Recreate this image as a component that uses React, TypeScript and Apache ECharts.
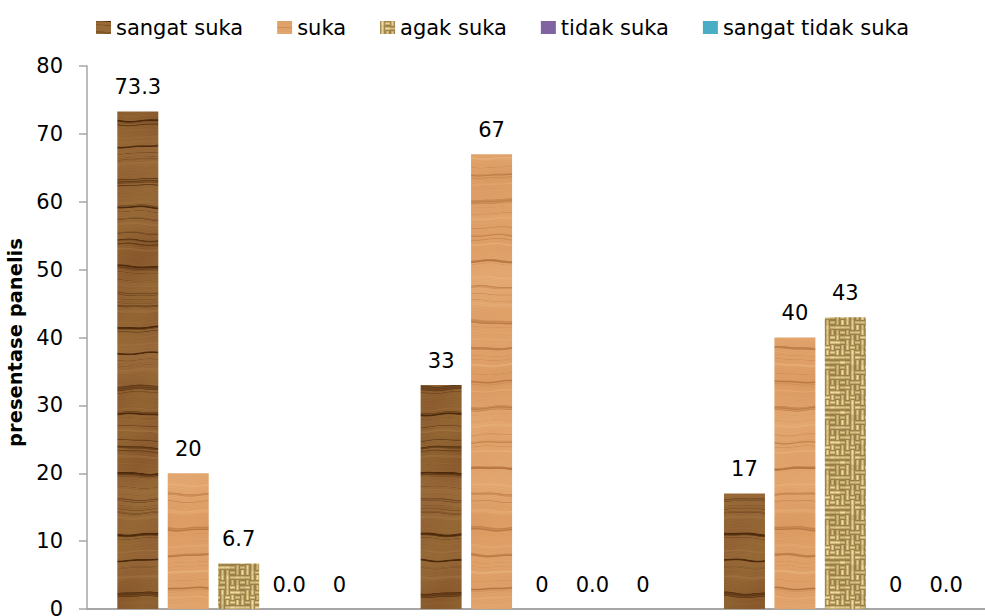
import React, { useEffect, useRef } from 'react';
import * as echarts from 'echarts';

// Categories along the x axis (their labels sit below the visible area)
const categories = ['Sampel A', 'Sampel B', 'Sampel C'];

// Legend / series names
const seriesNames = ['sangat suka', 'suka', 'agak suka', 'tidak suka', 'sangat tidak suka'];

// Percentage of panelists per category
const sangatSuka = [73.3, 33, 17];
const suka = [20, 67, 40];
const agakSuka = [6.7, 0, 43];
const tidakSuka = [0, 0, 0];
const sangatTidakSuka = [0, 0, 0];

// Decimal places used by each bar's value label
const sangatSukaDecimals = [1, 0, 0];
const sukaDecimals = [0, 0, 0];
const agakSukaDecimals = [1, 0, 0];
const tidakSukaDecimals = [1, 1, 0];
const sangatTidakSukaDecimals = [0, 0, 1];

// Value axis ticks
const yMin = 0;
const yMax = 80;
const yInterval = 10;

type RGB = [number, number, number];

const mix = (a: RGB, b: RGB, t: number): RGB => [
  a[0] + (b[0] - a[0]) * t,
  a[1] + (b[1] - a[1]) * t,
  a[2] + (b[2] - a[2]) * t,
];

// Streaky horizontal wood-grain texture
function woodTexture(
  base: RGB,
  dark: RGB,
  light: RGB,
  warm: RGB,
  phase: number,
  contrast: number
) {
  const w = 64;
  const h = 620;
  const c = document.createElement('canvas');
  c.width = w;
  c.height = h;
  const ctx = c.getContext('2d')!;
  const img = ctx.createImageData(w, h);
  const k = (Math.PI * 2) / w;
  for (let y = 0; y < h; y++) {
    for (let x = 0; x < w; x++) {
      const yy =
        y +
        0.9 * Math.sin(x * k + y * 0.031 + phase) +
        0.4 * Math.sin(x * k * 2 + y * 0.077 + phase * 2.3);
      const g =
        0.34 * Math.sin(0.213 * yy + phase) +
        0.26 * Math.sin(0.517 * yy + 2.1 * phase) +
        0.2 * Math.sin(0.941 * yy + 3.7 * phase) +
        0.12 * Math.sin(1.73 * yy + 1.3 * phase) +
        0.08 * Math.sin(3.1 * yy + 0.4 * phase);
      const tone =
        0.5 + 0.3 * Math.sin(0.037 * yy + phase * 1.7) + 0.2 * Math.sin(0.091 * yy + phase * 0.6);
      const warmth = 0.5 + 0.5 * Math.sin(0.061 * yy + x * k + phase * 0.9);
      const fine = 0.06 * Math.sin(x * k * 4 + y * 2.3 + phase);
      let col = mix(base, light, Math.max(0, Math.min(1, tone * 0.45 + fine)));
      col = mix(col, warm, warmth * 0.35);
      if (g > 0.3) col = mix(col, dark, Math.min(1, ((g - 0.3) / 0.4) * contrast));
      else if (g < -0.35) col = mix(col, light, Math.min(1, (-g - 0.35) / 0.5) * 0.5);
      const i = (y * w + x) * 4;
      img.data[i] = col[0];
      img.data[i + 1] = col[1];
      img.data[i + 2] = col[2];
      img.data[i + 3] = 255;
    }
  }
  ctx.putImageData(img, 0, 0);
  return c;
}

// Woven burlap texture
function burlapTexture() {
  const w = 50;
  const h = 50;
  const cell = 5;
  const c = document.createElement('canvas');
  c.width = w;
  c.height = h;
  const ctx = c.getContext('2d')!;
  const img = ctx.createImageData(w, h);
  const lightC: RGB = [246, 230, 172];
  const midC: RGB = [212, 186, 122];
  const darkC: RGB = [124, 98, 46];
  const cellHash = (cx: number, cy: number) => {
    const v = Math.sin(cx * 12.9898 + cy * 78.233) * 43758.5453;
    return v - Math.floor(v);
  };
  for (let y = 0; y < h; y++) {
    for (let x = 0; x < w; x++) {
      const cx = Math.floor(x / cell);
      const cy = Math.floor(y / cell);
      const lx = x % cell;
      const ly = y % cell;
      const hv = cellHash(cx, cy);
      const horizontal = hv > 0.5;
      const p = horizontal ? ly : lx;
      const q = horizontal ? lx : ly;
      let col: RGB;
      if (p === 2) col = lightC;
      else if (p === 1 || p === 3) col = midC;
      else col = mix(midC, darkC, 0.55);
      if (p === 2 && (q === 0 || q === 4)) col = mix(lightC, midC, 0.5);
      col = mix(col, darkC, ((hv * 7) % 1) * 0.3);
      const i = (y * w + x) * 4;
      img.data[i] = col[0];
      img.data[i + 1] = col[1];
      img.data[i + 2] = col[2];
      img.data[i + 3] = 255;
    }
  }
  ctx.putImageData(img, 0, 0);
  return c;
}

const patternOf = (canvas: HTMLCanvasElement) => ({
  image: canvas,
  repeat: 'repeat',
  imageWidth: canvas.width,
  imageHeight: canvas.height,
});

export default function App() {
  const ref = useRef<HTMLDivElement>(null);

  useEffect(() => {
    if (!ref.current) return;
    const chart = echarts.init(ref.current, undefined, { renderer: 'svg' });

    const fills: any[] = [
      patternOf(
        woodTexture([136, 88, 44], [78, 42, 12], [172, 124, 74], [150, 112, 52], 0.7, 1)
      ),
      patternOf(
        woodTexture([218, 154, 98], [182, 116, 64], [238, 186, 134], [226, 160, 100], 2.1, 0.75)
      ),
      patternOf(burlapTexture()),
      '#8064A2',
      '#4BACC6',
    ];

    const values = [sangatSuka, suka, agakSuka, tidakSuka, sangatTidakSuka];
    const decimals = [
      sangatSukaDecimals,
      sukaDecimals,
      agakSukaDecimals,
      tidakSukaDecimals,
      sangatTidakSukaDecimals,
    ];

    const font = 'DejaVu Sans';

    chart.setOption({
      animation: false,
      backgroundColor: '#ffffff',
      textStyle: { fontFamily: font },
      legend: {
        data: seriesNames,
        top: 17,
        left: 96,
        padding: 0,
        icon: 'rect',
        itemWidth: 15,
        itemHeight: 13,
        itemGap: 34,
        textStyle: { fontSize: 21, color: '#000', fontFamily: font },
      },
      grid: { left: 87, top: 66, bottom: 7, width: 910, outerBoundsMode: 'none' },
      xAxis: {
        type: 'category',
        data: categories,
        axisLine: { lineStyle: { color: '#a6a6a6', width: 2 } },
        axisTick: { show: false },
        axisLabel: { show: false },
      },
      yAxis: {
        type: 'value',
        min: yMin,
        max: yMax,
        interval: yInterval,
        name: 'presentase panelis',
        nameLocation: 'middle',
        nameGap: 49,
        nameTextStyle: {
          fontWeight: 'bold',
          fontSize: 19.5,
          color: '#000',
          fontFamily: font,
          padding: [0, 10, 0, 0],
        },
        axisLine: { show: true, lineStyle: { color: '#a6a6a6', width: 1.5 } },
        axisTick: { show: true, length: 8, lineStyle: { color: '#a6a6a6', width: 1.5 } },
        axisLabel: { fontSize: 21, color: '#000', margin: 24, fontFamily: font },
        splitLine: { show: false },
      },
      series: seriesNames.map((name, s) => ({
        name,
        type: 'bar',
        data: values[s],
        barWidth: 41,
        barGap: '23%',
        itemStyle: { color: fills[s] },
        label: {
          show: true,
          position: 'top',
          distance: 14,
          fontSize: 21,
          color: '#000',
          fontFamily: font,
          formatter: (p: any) => Number(p.value).toFixed(decimals[s][p.dataIndex]),
        },
      })),
    });

    return () => chart.dispose();
  }, []);

  return (
    <div
      ref={ref}
      style={{ position: 'fixed', left: 0, top: 0, width: 1000, height: 616, background: '#fff' }}
    />
  );
}
